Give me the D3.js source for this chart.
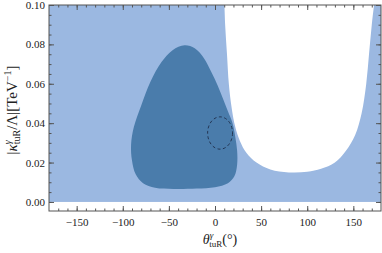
<!DOCTYPE html>
<html>
<head>
<meta charset="utf-8">
<script src="https://cdn.jsdelivr.net/npm/d3@7"></script>
<style>
  body { margin: 0; background: #fff; }
  text { font-family: "Liberation Serif", "DejaVu Serif", serif; fill: #222; }
</style>
</head>
<body>
<div class="chart"></div>
<script>
let width = 382;
let height = 253;
let padL = 49, padR = 381, padT = 5, padB = 211;

// axis ticks
let xTicks = [-150, -100, -50, 0, 50, 100, 150];
let xMinor = d3.range(-170, 180, 10);
let yTicks = [0, 0.02, 0.04, 0.06, 0.08, 0.10];
let yMinor = d3.range(0, 0.1001, 0.005);

// full scanned range (light region)
let scanTheta = [-180, 180];
let scanKappa = [0, 0.1];

// excluded region (white U shape)
let exclTheta = [10, 11, 13, 15, 18, 22, 27, 34, 45, 60, 80, 100, 115, 130, 142, 152, 159, 164, 167, 170, 173.5];
let exclKappa = [0.104, 0.09, 0.075, 0.06, 0.048, 0.038, 0.031, 0.025, 0.020, 0.0165, 0.015, 0.0153, 0.0168, 0.020, 0.026, 0.034, 0.045, 0.06, 0.075, 0.09, 0.104];

// preferred region (dark blob), closed contour
let fitTheta = [-33, -22, -12, -4, 3, 9, 14, 19, 22, 24, 24, 21, 14, 0, -20, -45, -65, -78, -86, -90, -91, -88, -80, -70, -58, -46];
let fitKappa = [0.0795, 0.078, 0.073, 0.066, 0.059, 0.052, 0.046, 0.040, 0.033, 0.026, 0.019, 0.013, 0.0095, 0.0075, 0.0068, 0.0066, 0.0072, 0.0095, 0.014, 0.021, 0.029, 0.038, 0.049, 0.061, 0.071, 0.077];

// dashed ellipse: centre and half widths
let ellTheta = [5.5, 13.5];
let ellKappa = [0.035, 0.0082];

let x = d3.scaleLinear().domain([-180, 180]).range([padL, padR]);
let y = d3.scaleLinear().domain([-0.0046, 0.1]).range([padB, padT]);

let svg = d3.select('.chart')
            .append('svg')
            .attr('width', width)
            .attr('height', height);

svg.append('clipPath')
   .attr('id', 'plotclip')
   .append('rect')
   .attr('x', padL).attr('y', padT)
   .attr('width', padR - padL).attr('height', padB - padT);

let plot = svg.append('g').attr('clip-path', 'url(#plotclip)');

plot.append('rect')
    .attr('x', x(scanTheta[0]))
    .attr('y', y(scanKappa[1]))
    .attr('width', x(scanTheta[1]) - x(scanTheta[0]))
    .attr('height', y(scanKappa[0]) - y(scanKappa[1]))
    .attr('fill', '#9bb8e1');

let line = d3.line().x(d => x(d[0])).y(d => y(d[1]));

plot.append('path')
    .attr('d', line.curve(d3.curveCatmullRom)(d3.zip(exclTheta, exclKappa)))
    .attr('fill', '#fff');

plot.append('path')
    .attr('d', line.curve(d3.curveCatmullRomClosed)(d3.zip(fitTheta, fitKappa)))
    .attr('fill', '#4a7cab');

plot.append('ellipse')
    .attr('cx', x(ellTheta[0]))
    .attr('cy', y(ellKappa[0]))
    .attr('rx', x(ellTheta[0] + ellTheta[1]) - x(ellTheta[0]))
    .attr('ry', y(ellKappa[0] - ellKappa[1]) - y(ellKappa[0]))
    .attr('fill', 'none')
    .attr('stroke', '#1e2c48')
    .attr('stroke-width', 0.9)
    .attr('stroke-dasharray', '3,2.5');

// frame
svg.append('rect')
   .attr('x', padL).attr('y', padT)
   .attr('width', padR - padL).attr('height', padB - padT)
   .attr('fill', 'none')
   .attr('stroke', '#555')
   .attr('stroke-width', 1);

function styleAxis(g) {
  g.select('.domain').remove();
  g.selectAll('line').attr('stroke', '#555');
  g.selectAll('text').style('font-size', '11px').attr('fill', '#222');
}

let fmtX = d3.format('d');
let fmtY = d3.format('.2f');

svg.append('g').attr('transform', 'translate(0,' + padB + ')')
   .call(d3.axisBottom(x).tickValues(xMinor).tickSize(-2.5).tickFormat(''))
   .call(styleAxis);
svg.append('g').attr('transform', 'translate(0,' + padB + ')')
   .call(d3.axisBottom(x).tickValues(xTicks).tickSize(-5).tickPadding(7).tickFormat(fmtX))
   .call(styleAxis);
svg.append('g').attr('transform', 'translate(0,' + padT + ')')
   .call(d3.axisTop(x).tickValues(xMinor).tickSize(-2.5).tickFormat(''))
   .call(styleAxis);
svg.append('g').attr('transform', 'translate(0,' + padT + ')')
   .call(d3.axisTop(x).tickValues(xTicks).tickSize(-5).tickFormat(''))
   .call(styleAxis);

svg.append('g').attr('transform', 'translate(' + padL + ',0)')
   .call(d3.axisLeft(y).tickValues(yMinor).tickSize(-2.5).tickFormat(''))
   .call(styleAxis);
svg.append('g').attr('transform', 'translate(' + padL + ',0)')
   .call(d3.axisLeft(y).tickValues(yTicks).tickSize(-5).tickPadding(4).tickFormat(fmtY))
   .call(styleAxis);
svg.append('g').attr('transform', 'translate(' + padR + ',0)')
   .call(d3.axisRight(y).tickValues(yMinor).tickSize(-2.5).tickFormat(''))
   .call(styleAxis);
svg.append('g').attr('transform', 'translate(' + padR + ',0)')
   .call(d3.axisRight(y).tickValues(yTicks).tickSize(-5).tickFormat(''))
   .call(styleAxis);

// x title
let xt = svg.append('text')
            .attr('x', 220).attr('y', 244)
            .attr('text-anchor', 'middle')
            .style('font-size', '14px');
xt.append('tspan').style('font-style', 'italic').text('θ');
xt.append('tspan').attr('dy', -6).style('font-size', '9px').style('font-style', 'italic').text('γ');
xt.append('tspan').attr('dx', -4).attr('dy', 9).style('font-size', '9px').text('tuR');
xt.append('tspan').attr('dy', -3).text('(°)');

// y title
let yt = svg.append('text')
            .attr('transform', 'translate(17,' + 110 + ') rotate(-90)')
            .attr('text-anchor', 'middle')
            .style('font-size', '15px');
yt.append('tspan').text('|');
yt.append('tspan').style('font-style', 'italic').text('κ');
yt.append('tspan').attr('dy', -6).style('font-size', '10px').style('font-style', 'italic').text('γ');
yt.append('tspan').attr('dx', -4).attr('dy', 9).style('font-size', '10px').text('tuR');
yt.append('tspan').attr('dy', -3).text('/Λ|[TeV');
yt.append('tspan').attr('dy', -6).style('font-size', '10px').text('−1');
yt.append('tspan').attr('dy', 6).text(']');
</script>
</body>
</html>
